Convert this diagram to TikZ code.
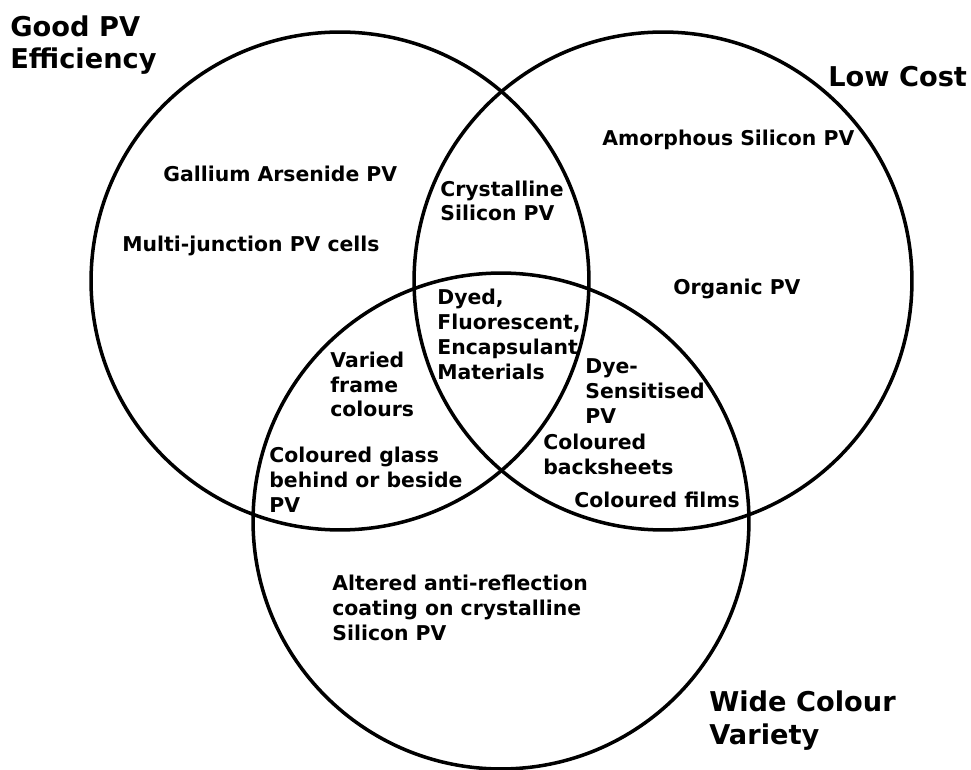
\documentclass[tikz,border=0pt]{standalone}
\usepackage{fontspec}
\setmainfont{DejaVu Sans}
\begin{document}
\begin{tikzpicture}[x=0.02cm,y=-0.02cm,
		ring/.style={line width=2pt},
		lbl/.style={anchor=base west,inner sep=0pt,align=left,font=\bfseries\fontsize{11.6}{14.2}\selectfont},
		ttl/.style={anchor=base west,inner sep=0pt,align=left,font=\bfseries\fontsize{15.5}{18.7}\selectfont}]
			\useasboundingbox (0,0) rectangle (971,770);
			\coordinate (eff) at (340,281);
			\coordinate (cost) at (663,281);
			\coordinate (col) at (501,521);
			\draw[ring] (eff) circle (4.98cm);
			\draw[ring] (cost) circle (4.98cm);
			\draw[ring] (col) circle (4.96cm);
			% base anchor of a multi-line node sits on its last line
			\node[ttl] (t-eff) at (10,69) {Good PV\\Efficiency};
			\node[ttl] (t-cost) at (828,87) {Low Cost};
			\node[ttl] (t-col) at (709,744) {Wide Colour\\Variety};
			\node[lbl] (gaas) at (163,182) {Gallium Arsenide PV};
			\node[lbl] (multi) at (122,252) {Multi-junction PV cells};
			\node[lbl] (csi) at (440,221) {Crystalline\\Silicon PV};
			\node[lbl] (asi) at (602,146) {Amorphous Silicon PV};
			\node[lbl] (opv) at (673,295) {Organic PV};
			\node[lbl] (dyed) at (437,379) {Dyed,\\Fluorescent,\\Encapsulant\\Materials};
			\node[lbl] (frame) at (330,417) {Varied\\frame\\colours};
			\node[lbl] (glass) at (269,512) {Coloured glass\\behind or beside\\PV};
			\node[lbl] (arc) at (332,640) {Altered anti-reflection\\coating on crystalline\\Silicon PV};
			\node[lbl] (dssc) at (585,423) {Dye-\\Sensitised\\PV};
			\node[lbl] (back) at (543,474) {Coloured\\backsheets};
			\node[lbl] (films) at (574,507) {Coloured films};
		\end{tikzpicture}
\end{document}
